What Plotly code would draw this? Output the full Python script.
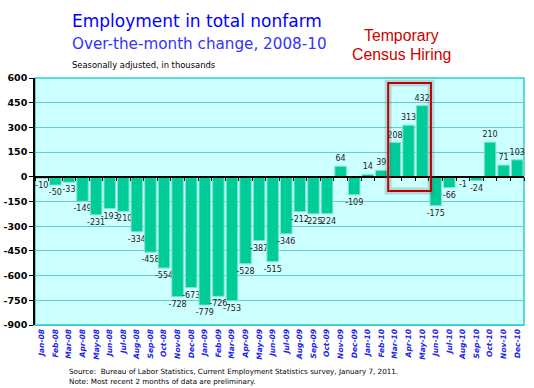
import plotly.graph_objects as go

months = ["Jan-08","Feb-08","Mar-08","Apr-08","May-08","Jun-08","Jul-08","Aug-08","Sep-08","Oct-08","Nov-08","Dec-08",
          "Jan-09","Feb-09","Mar-09","Apr-09","May-09","Jun-09","Jul-09","Aug-09","Sep-09","Oct-09","Nov-09","Dec-09",
          "Jan-10","Feb-10","Mar-10","Apr-10","May-10","Jun-10","Jul-10","Aug-10","Sep-10","Oct-10","Nov-10","Dec-10"]
changes = [-10,-50,-33,-149,-231,-193,-210,-334,-458,-554,-728,-673,
           -779,-726,-753,-528,-387,-515,-346,-212,-225,-224,64,-109,
           14,39,208,313,432,-175,-66,-1,-24,210,71,103]
y_ticks = [600,450,300,150,0,-150,-300,-450,-600,-750,-900]

W, H = 534, 388
L, R, T, B = 35, 10, 78, 63
PW, PH = W - L - R, H - T - B
def px(xp): return (xp - L) / PW
def py(yp): return (H - B - yp) / PH

idx = list(range(len(months)))

fig = go.Figure()
fig.add_trace(go.Bar(
    x=idx, y=changes, marker=dict(color="#00CC99", line=dict(color="#80E6CC", width=1)),
    text=[str(v) for v in changes], textposition="outside", constraintext="none",
    textfont=dict(family="DejaVu Sans", size=8, color="#222222"),
    cliponaxis=False, showlegend=False, hoverinfo="skip"))
# dummy trace for zero-line tick axis
fig.add_trace(go.Scatter(x=[], y=[], xaxis="x2", showlegend=False))

fig.update_layout(
    width=W, height=H, margin=dict(l=L, r=R, t=T, b=B, autoexpand=False),
    paper_bgcolor="white", plot_bgcolor="#CCFFFF",
    bargap=0.15,
    xaxis=dict(range=[-0.5, len(months) - 0.5], tickmode="array", tickvals=idx, ticktext=months,
               tickangle=-90, ticks="", showgrid=False, zeroline=False,
               showline=True, linecolor="#33CCCC", linewidth=1,
               tickfont=dict(family="DejaVu Sans", size=7.5, color="#2222EE", weight="bold", style="italic")),
    xaxis2=dict(overlaying="x", anchor="free", position=0.6, range=[-0.5, len(months) - 0.5],
                tickmode="array", tickvals=[i - 0.5 for i in range(len(months) + 1)],
                ticks="outside", ticklen=3, tickcolor="black", showticklabels=False,
                showline=True, linecolor="black", linewidth=1.5, showgrid=False, zeroline=False),
    yaxis=dict(range=[-900, 600], tickmode="array", tickvals=y_ticks, ticktext=[str(v) for v in y_ticks],
               showgrid=True, gridcolor="#66CCCC", gridwidth=1, zeroline=False,
               showline=True, linecolor="black", linewidth=1.5, ticks="outside", ticklen=4, tickcolor="black",
               tickfont=dict(family="DejaVu Sans", size=9.5, color="black", weight="bold")),
    font=dict(family="DejaVu Sans"),
)

# plot border (cyan)
fig.add_shape(type="rect", xref="paper", yref="paper", x0=0, x1=1, y0=0, y1=1,
              line=dict(color="#33CCCC", width=1.5), layer="below")
# shadow + red box around census hiring
fig.add_shape(type="rect", xref="x", yref="y", x0=25.5, x1=28.65, y0=-86, y1=570,
              line=dict(color="rgba(80,110,110,0.25)", width=7))
fig.add_shape(type="rect", xref="x", yref="y", x0=25.5, x1=28.65, y0=-86, y1=570,
              line=dict(color="#C00000", width=2))

def note(text, x, y, size, color, family="DejaVu Sans", xanchor="left"):
    fig.add_annotation(text=text, xref="paper", yref="paper", x=px(x), y=py(y),
                       xanchor=xanchor, yanchor="middle", showarrow=False,
                       font=dict(family=family, size=size, color=color))

note("Employment in total nonfarm", 70, 21, 17, "#0000FF")
note("Over-the-month change, 2008-10", 70, 44, 15.2, "#3333FF")
note("Seasonally adjusted, in thousands", 70, 64.5, 8.4, "black")
note("Temporary", 401, 36, 15.8, "#CC0000", "Liberation Sans", "center")
note("Census Hiring", 401, 55, 15.8, "#CC0000", "Liberation Sans", "center")
note("Source:  Bureau of Labor Statistics, Current Employment Statistics survey, January 7, 2011.", 67, 371, 7.2, "black")
note("Note: Most recent 2 months of data are preliminary.", 67, 381.5, 7.2, "black")

fig.write_html("out.html", config={"displayModeBar": False},
               post_script="document.body.style.margin='0px';document.body.style.overflow='hidden';")
